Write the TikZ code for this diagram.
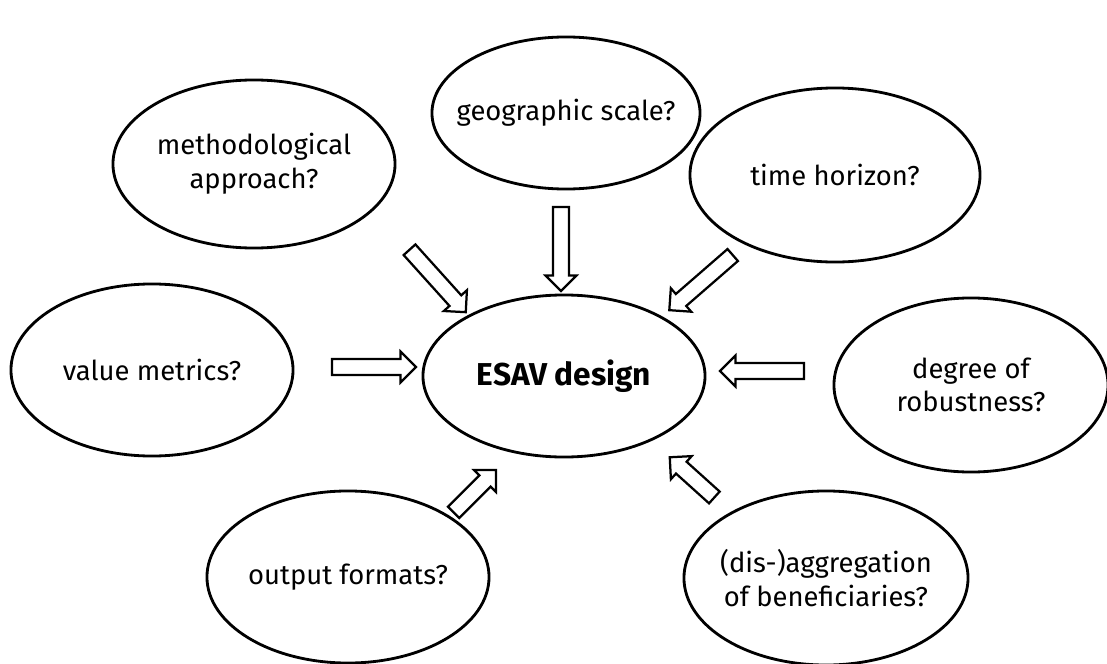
\documentclass[tikz,border=0pt]{standalone}
\usepackage{fontspec}
\setmainfont{Fira Sans}
\usetikzlibrary{shapes.geometric,shapes.arrows}

\tikzset{
  question/.style={ellipse, draw, line width=2pt, align=center, font=\fontsize{19.5}{24}\selectfont, inner sep=-1cm},
  feed/.style={single arrow, draw, line width=1.6pt, inner sep=0.17cm, single arrow head extend=0.19cm, minimum height=2.1cm}
}

\begin{document}
\begin{tikzpicture}[x=0.025cm, y=-0.025cm]
\useasboundingbox (0,0) rectangle (1107,664);

\node[question, font=\fontsize{22.5}{26}\selectfont\bfseries, minimum width=7.05cm, minimum height=4.05cm] (esav) at (564,376) {ESAV design};

\node[question, minimum width=6.7cm, minimum height=3.8cm] (geo) at (566,113) {geographic scale?};
\node[question, minimum width=7.05cm, minimum height=4.2cm] (method) at (254,164) {methodological\\approach?};
\node[question, minimum width=7.25cm, minimum height=4.35cm] (horizon) at (835,175) {time horizon?};
\node[question, minimum width=7.05cm, minimum height=4.3cm] (metrics) at (152,370) {value metrics?};
\node[question, minimum width=6.85cm, minimum height=4.35cm] (robust) at (971,385) {degree of\\robustness?};
\node[question, minimum width=7.1cm, minimum height=4.35cm] (aggr) at (826,578) {(dis-)aggregation\\of beneficiaries?};
\node[question, minimum width=7.05cm, minimum height=4.3cm] (formats) at (348,577) {output formats?};

% arrows pointing into the centre
\node[feed, rotate=-90] (fromgeo) at (561,245) {};
\node[feed, rotate=-48] (frommethod) at (435,278) {};
\node[feed, rotate=-139] (fromhorizon) at (704,280) {};
\node[feed] (frommetrics) at (370,367) {};
\node[feed, rotate=180] (fromrobust) at (766,371) {};
\node[feed, rotate=45, minimum height=1.5cm] (fromformats) at (472,494) {};
\node[feed, rotate=138, minimum height=1.5cm] (fromaggr) at (695,480) {};
\end{tikzpicture}
\end{document}
